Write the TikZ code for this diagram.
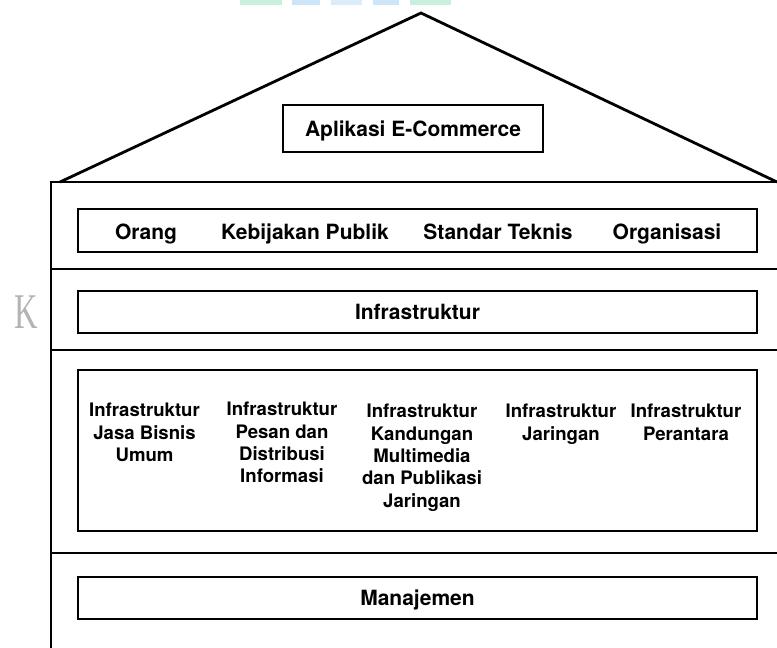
\documentclass[tikz,border=0pt]{standalone}
\usepackage{fontspec}
\setmainfont{TeX Gyre Heros}
\newfontfamily\wmfont{Liberation Serif}
\definecolor{wmgreen}{HTML}{C9F0DD}
\definecolor{wmblue}{HTML}{CDE5F8}
\definecolor{wmgray}{HTML}{B4B4B4}
\begin{document}
\begin{tikzpicture}[x=1pt,y=-1pt,
  wall/.style={line width=2.8pt, line join=miter},
  lbox/.style={draw, line width=2.7pt, inner sep=0pt},
  lbl/.style={font=\fontsize{21}{24}\selectfont\bfseries, inner sep=0pt, text height=15.1pt, text depth=0pt},
  col/.style={font=\fontsize{18.6}{22.4}\selectfont\bfseries, align=center, anchor=north, inner sep=0pt}]
\useasboundingbox (0,0) rectangle (777,648);
% watermark traces
\fill[wmgreen] (240,0) rectangle (282,5);
\fill[wmblue] (292,0) rectangle (320,5);
\fill[wmblue!70] (331,0) rectangle (362,5);
\fill[wmblue] (373,0) rectangle (399,5);
\fill[wmgreen] (410,0) rectangle (451,5);
\node[text=wmgray, font=\wmfont\fontsize{50}{50}\selectfont, inner sep=0pt, xscale=0.65] (wm) at (26,312) {K};
% roof and walls
\coordinate (apex) at (421,13);
\coordinate (rl) at (60,182);
\coordinate (rr) at (777,182);
\coordinate (wt) at (51,182);
\coordinate (wb) at (51,648);
\draw[wall] (rl) -- (apex) -- (rr);
\draw[wall] (wb) -- (wt) -- (rr);
\coordinate (f1l) at (51,269); \coordinate (f1r) at (777,269);
\coordinate (f2l) at (51,350); \coordinate (f2r) at (777,350);
\coordinate (f3l) at (51,553); \coordinate (f3r) at (777,553);
\draw[wall] (f1l) -- (f1r);
\draw[wall] (f2l) -- (f2r);
\draw[wall] (f3l) -- (f3r);
% boxes
\node[lbox, lbl, minimum width=260pt, minimum height=47pt] (app) at (413,128.5) {Aplikasi E-Commerce};
\node[lbox, minimum width=679pt, minimum height=43pt] (row1) at (417.5,230.5) {};
\node[lbl] (orang) at (146,232) {Orang};
\node[lbl] (kebij) at (305,232) {Kebijakan Publik};
\node[lbl] (std) at (498,232) {Standar Teknis};
\node[lbl] (org) at (667,232) {Organisasi};
\node[lbox, lbl, minimum width=679pt, minimum height=42pt] (infra) at (417.5,312) {Infrastruktur};
\node[lbox, minimum width=679pt, minimum height=161pt] (big) at (417.5,450.5) {};
\node[col] (c1) at (144.5,403) {Infrastruktur\\Jasa Bisnis\\Umum};
\node[col] (c2) at (282,402) {Infrastruktur\\Pesan dan\\Distribusi\\Informasi};
\node[col] (c3) at (422,404) {Infrastruktur\\Kandungan\\Multimedia\\dan Publikasi\\Jaringan};
\node[col] (c4) at (561,404) {Infrastruktur\\Jaringan};
\node[col] (c5) at (686,404) {Infrastruktur\\Perantara};
\node[lbox, lbl, minimum width=679pt, minimum height=42pt] (man) at (417.5,598) {Manajemen};
\end{tikzpicture}
\end{document}
